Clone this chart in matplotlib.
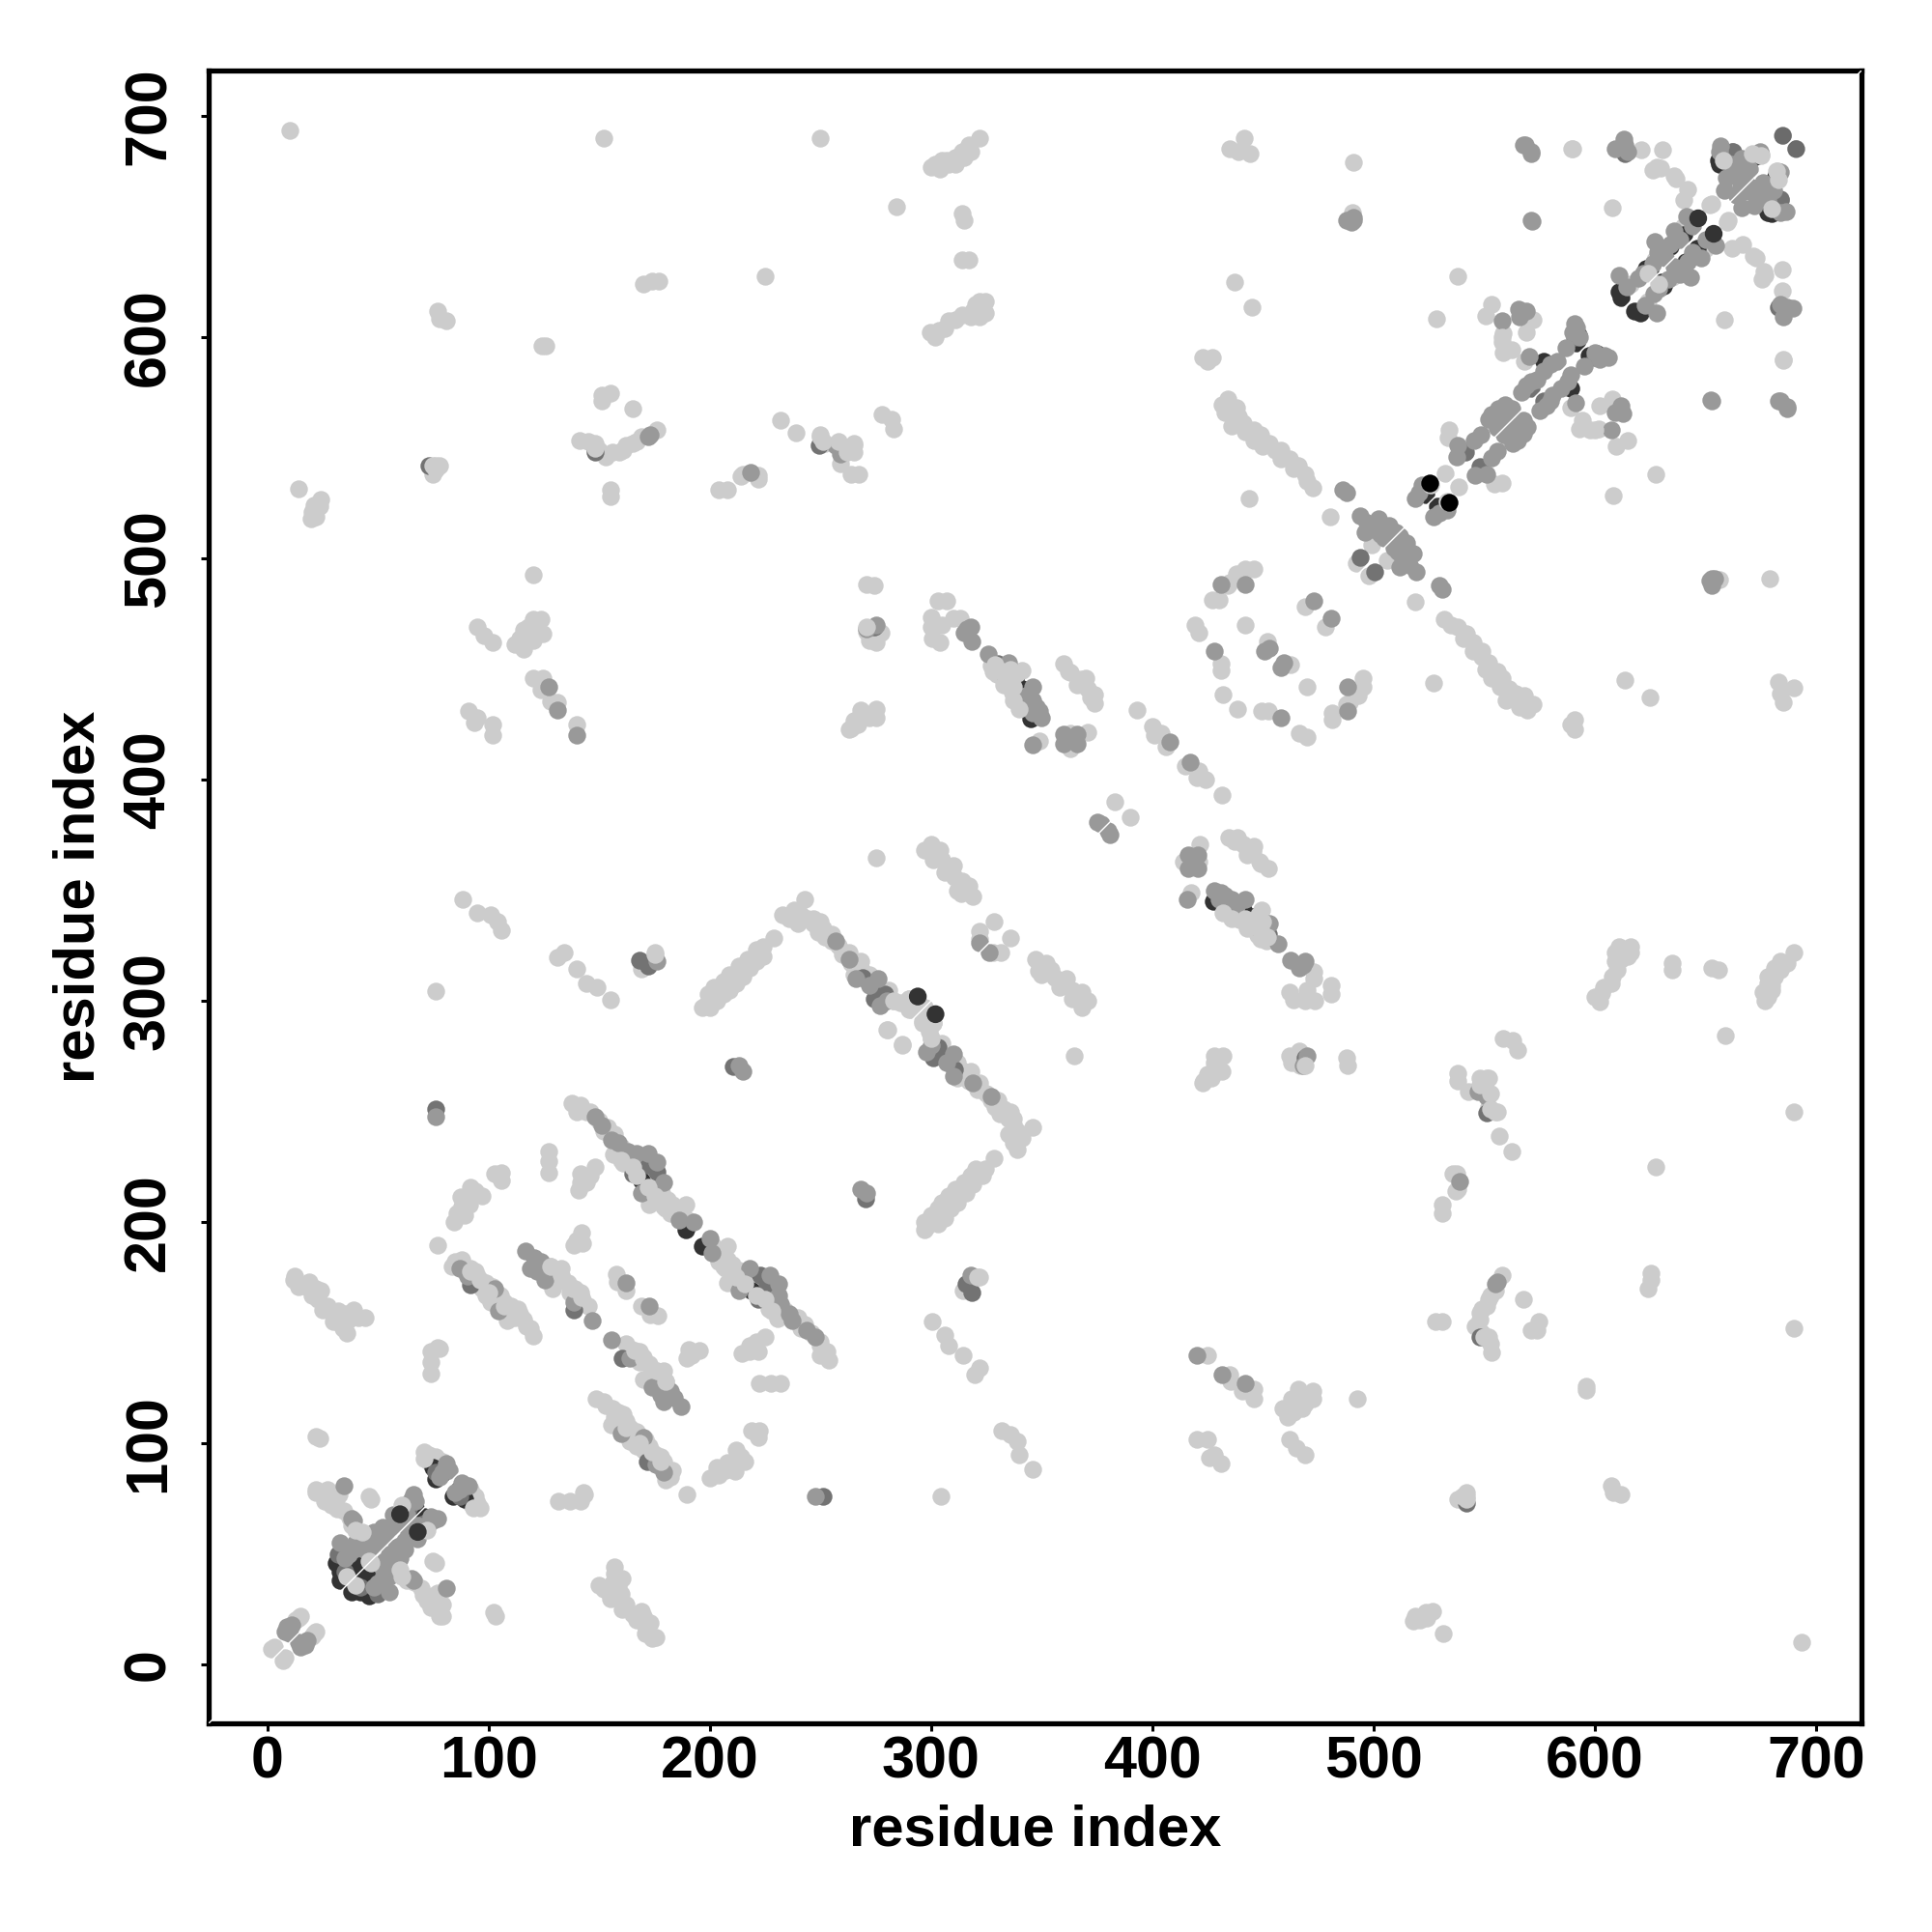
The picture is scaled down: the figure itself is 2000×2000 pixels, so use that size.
import matplotlib
matplotlib.use("Agg")
import matplotlib.pyplot as plt

# Contacts as (residue i, residue j) with i < j; the map is symmetric.
light = [
 (3,8),(2,7),(14,21),(13,20),(15,22),
 (22,79),(27,79),(24,78),(46,76),(22,103),(34.5,69.5),(31,75),(28.8,72.3),(32.6,77),(22,78),(26,74),
 (37.3,66.7),(31.6,70.5),(23.5,102.3),(47,75),(71,96),(73,95),(76,94),(73,92),(79,92),(42,50),(38,63),(45,52),
 (10,693.5),(152,690),(250,690),(225,627.5),(170,624),(174,625.5),(177,625.5),(77,612),(78,608.5),(81,607.5),
 (124,596),(126,596),(151,574),(155,574.5),(151,571),(165,567.6),(176,558),(169,555),(165,552),(161,549),(156,548),
 (159,548),(148,552),(145,553),(141,553.5),(155,531),(155,528),(204,531),(208,531),(214,537),(215,538),(222,537.6),(222,536),
 (150,549),(153,546),(162,551),(167,553),
 (232,562.5),(239,556.6),(250,556),(252,552),(265,551),(265,548),(259,543),(264,538),(267.5,538),
 (278,565),(282,563),(283,558.5),
 (76,542),(75,538),(78,542),(14,531.5),(24,526.5),(23.5,523.5),(20,521),(19.7,518),(21,524),(22,519),(120,492.5),
 (95,469),(98,465),(102,462),(120,472.5),(123.5,472.5),(118,469),(124.5,466),(116,467.7),(112,461),(116,459),(120,463),(122,468),(114,464),(118,463),(121,466),
 (120,446),(124.5,446),(123.5,440.6),(131,435),(128,435.6),(140,425),(91,431),(95,428),(102,425),(102,420),(93.5,426),
 (274.5,487.7),(272,463),(275.6,468),(265,426.5),(263,422.6),(269,430),(275,432),(275,428),(267,425),
 (88.5,346),(95,340),(101,339),(104,336),(106,332),(76,304.6),(131,319.6),(134,322),(140,314.6),(144,308),(149,306),(155,300.7),
 (175,322),(169,314.6),(275,364.7),
 (196.5,296.8),(198,298),(200,301),(203,303),(205,305),(208,308),(211.6,311),(214,313),(216,315),(220,319),(224,324.6),(229,328.5),
 (200,297),(203,300),(206,303),(209,305),(212,308),(215,311),(218,315),(221,318),(224,320),(199,303),(202,306),(206,309),(209,312),(213,316),(217,319),(221,323),
 (233,339),(238,341),(243,346),(241,339),(247,337),(247,335),(251,333),(252,329),(258,325),(263,322),(268,315),(272,312),(280,287),(287,280.6),
 (236,337),(240,335),(244,337),(249,331),(255,327),(260,321),(264,317),(268,318),(272,311),(255,330),(250,336),
 (283,300),(291,296),(281,305),(265,312),(290,301),
 (137.7,254),(141.5,253),(144.4,250),(154,243),(152,241),(156.6,230.5),(161,226.7),(174.6,215),(178.4,213),(172.7,208),(179,207),(182,204),(189,208),
 (140,250),(146,250),(150,246),(157,240),(160,234),(165,228),(170,225),(175,218),(181,210),(176,210),(185,205),(183,208),(188,202),(190,201),
 (127,232),(127,227.6),(127,222.5),(141.5,222),(140.5,214.4),(146,221),(148,224.8),(144,218),(141.5,218),
 (102.6,222),(106,222.5),(106,219),(91.6,216),(97,212),(87.5,211.5),(91.3,207.8),(85.6,204),(84.6,200),(89.4,203),(77,189.8),(88,207),(94,214),(87,204),
 (142,195.5),(138.6,189.8),(142.4,190.7),(140,192),
 (83.7,180),(92,179),(95,175.6),(99,172.7),(100.8,164),(105.5,167),(110,162),(108.3,155.7),(114,158.5),(117,153),(120,148.7),(103,166),(112,157),
 (85,182),(88,183),(90,177),(94,178),(97,170),(99,167),(102,171),(107,164),(110,158),(113,161),(116,156),(119,152),(105,163),
 (128,180),(133,179),(129,170),(135.8,172.7),(141.5,168),(145,162),(131,176),(137,168),(127,176),(130,172),(133,175),(139,170),(143,164),(140,166),
 (157.6,176.5),(162.3,169),(158,173),
 (12.2,175.6),(12,173.7),(17.4,170.8),(22,170),(23,165),(25,160.4),(29.7,159.5),(35.4,158.5),(39,160.4),(44.3,157),(32.6,154.7),(36,150),(30,155),
 (14,171),(19,173),(20,167),(24,169),(27,162),(32,160),(34,152),(37,156),(41,157),
 (77,143.4),(74,141.5),(74,136.7),(74,131.6),(78,143),
 (284.5,659),(302,678),(305,680),(308,678),(311,681),(314,684),(317,687),(322,690),(314,656),(315,653),(314,635),(317,635),
 (304,676),(307,680),(311,678),(315,681),(318,684),(300,677),
 (299.6,602),(303.4,603),(308,607.5),(311,608),(319,612),(324.6,616),(324.6,611),(322,616),(302,600),(306,604),(314,610),(318,609),(322,612),(320,615),(322,609),
 (434.9,685),(441.5,690),(444,683),(439,684),(437,625),(445,613.6),(490.4,656.5),(491,679),(422.6,591),(427,591),(425,589),
 (431.5,569.6),(436,567),(438.8,564),(436,560),(442,557),(446,553.4),(450,550.6),(455.5,549),(458,545),(464,540.6),(469,538),(472.7,531.7),
 (434,572),(438,568),(433,566),(441,561),(446,558),(449,556),(453,552),(458,549),(462,545),(466,542),(470,535),
 (443.8,527),(480.5,519),(271,488.4),(303,481),(307,481),(300,473.6),(300,469),(300.7,464),(304,462),(310,473),(313,473),(305,470),
 (271,467),(277.3,466.6),(275,462),(268,431.4),(272,428),(264,423),
 (327.3,451.7),(329.6,447.8),(341,449.4),(336.6,439.3),
 (360,452.5),(363,448.6),(367.8,445.5),(369.4,442.4),(374,438.5),(374,434.6),(371,441),(362,449),(366,443),(370,446),(372,437),
 (349,417.4),(363,421),(371,421.3),(363,414),
 (393,431.5),(400,424),(404,421),(401,420),(406,415),(383,390),
 (419.3,469.7),(421,466.6),(442,469.7),(431,452.5),(431,449.4),(431.8,438.5),(427,481.4),(434,487.6),(438,493),(442,495.4),(445.8,495.4),(430,481.4),(434.9,489),
 (452,462.6),(469,478),
 (297,368),(302,367),(305,363.6),(308,359.7),(310.7,355.8),(313.5,348.6),(319,347.4),(312,350),(322,328),(328.5,335.7),(321.8,331.6),
 (300,371),(304,368),(301,364),(306,358),(310,361),(314,354),(317,352),
 (532.2,538.5),(534,558.3),(533.7,554.6),(553.5,614.8),(550.6,609.7),(571.9,608),(558.6,601.6),(558.6,592.8),(562.3,594.3),(569,602.3),(558,598),
 (553.5,561.2),(589.5,685.3),(621,684.5),(630.6,684.5),(626.2,675.7),(635.7,672.8),(629.8,676.5),(640,661.8),(607.8,658.4),
 (538.1,627.3),(528.3,608.2),(568,589.1),(652.9,660.3),(499.2,506.2),(492,497.8),(636.8,671.7),(628,676.8),(642,667),(590,685),
 (658,682.3),(675.3,682.3),(640,650),(627,635),(523,531),(616,624),
]

mid = [
 (8,15),(9,17),(10,14),(11,18),(9,16),
 (33,55),(34.5,81),(38,66),(39,65),(44,59),(50,58),(57,68),(55,62),(59,64),(46,56),(48,60),(52,62),(54,60),(60,68),(62,70),(67,74),
 (35,48),(37,50),(39,52),(40,55),(42,57),(44,52),(47,53),(50,55),(53,58),(56,62),(60,65),(63,68),(65,75),(66,77),(64,73),
 (81,91),(79,87),(82,88),(78,85),
 (172,555),(218.5,539),(257,551),(259,547),(127,442),(131,431.5),(140,420),(176,318),
 (271,468),(213,271),(215,268),(266,310),(272,307),(276,310),(277,298),(257,327),(263,319),(280,300),
 (148,247.5),(151,243.7),(155.7,237),(158.5,236),(163,232),(167,231),(179,218),(169,213),(186,201),(192.6,200),(176,227),(172,231),
 (76,247.5),(87,179),(90.3,175.6),(102.6,170),(104.5,160),(116.9,187),(120.6,184),(123.5,182),(118.8,179),(125.4,173.7),(138.6,164),(147,155.7),(122,178),
 (162.3,172.7),(173,555.7),
 (488,653),(491,654),(486,531),(488,529.5),(318,469),(316.3,468),(314.8,466.6),(318.2,462.6),(275,469.7),
 (325.7,457),(335,453),(333.5,446),(346,442),(343,434.6),(347.5,433),(350,428),(346,430),(343,438),(349,431),(346,436),
 (346,415.9),(360,416),(360,420.5),(366,416),(366,420.5),(363,418),(408,417),(375,381),(380,377),
 (431,488.4),(442,488.4),(450.5,458),(453,459.5),(473,481),(427.9,458),
 (322,326.3),(520.5,529.7),(519,527),(522,533),(538,551),(537.4,545.8),(548.4,556),(545.4,553.2),
 (557.9,607.5),(565.3,612.6),(569,612),(566,609),(553.5,565),(556.5,567.8),(559.4,569.3),(562.3,567.8),(560,563),(552,563),(556,559),
 (569,578.1),(566.7,575.2),(571,580),(570.4,591.3),(582.9,589.1),(579.9,587.7),(577,584.7),(574,581),(591.7,604.5),(591,606),(590,602),(593,600),(587,595),
 (567.5,686.7),(571.1,683.8),(609.3,685.3),(613,689.7),(571,653),(610.8,628),(614.4,622.9),(619.6,626.6),(626.2,633.2),(627,643.4),(634.2,642),
 (641.6,654.5),(638.6,644.2),(628.4,638.3),(622,629),(632,636),(636,648),(644,650),
 (656.3,683.8),(666.5,680.9),(674.6,683.8),(659.2,672),(664.3,672.8),(668.7,678),(658.5,666.2),(670,676),(662,678),(656.7,686.3),(666,668),(664,664),(670,668),
 (613.4,687),(615,684),(571.5,652.6),(571,683),(568.6,687),(494,519.4),(497,516),(502,518),(507,515),(510,512),(503,511),(500,513),
 (496,512),(505,509),(653,491),(490,652),
]

dark = [
 (32,50),(35,42),(64,71),(76,251),(76,87),(73,542),(148,548),(249.5,551),(210.6,270.3),(168,318.5),(274.5,301),(279,303),(274.5,308),(269,310.7),
 (172,226),(176,223),(165,222),(92,171.8),(138.6,160.4),(316,172),(330.4,452.5),(469,274.5),(541.5,548),(555,565),(558,565),(571.1,576.7),
 (613.7,683),(662.1,683.8),(662.5,684),(494,500.3),(591,600),
]

deep = [
 (39,47),(41,46),(33,42),(35,44),(34,46),(31,46),(35,40),(38,42),(33,38),(66,73),(67,71),(64,72),(75,89),(79,86.5),(76,84),
 (169,219),(189,196.4),(338.2,445.5),(341,441),(345,427.5),(523.4,529),(577,589.1),(591.7,597.2),(592.4,600.9),
 (610.8,620.7),(612,618),(623.2,631),(640,646.4),(634,641),(657,683.8),(656,680),(672.4,681.6),(658,681),(656.5,678),(625,630),
]

light_over = [
 (75,542),(76,540),(148,550),(250,555),(251,553),(262,548),(258,553),(265,552),(271,469),(175,321),
 (329,452),(332,449),(336,450),(339,448),(334,445),(337,442),(340,432),(337,436),(333,443),(328,449),
 (160,228),(167,221),(172,216),(177,210),(175,212),(165,225),(180,206),
 (92,178),(96,174),(100,168),(107,162),(113,158),(128,180),(133,176),(138,170),(142,166),
 (286,299),(290,296),(283,300),(290,301),(297,297),
 (40,61),(43,60),(36,40),(71,93),(46,47),(61,72),
 (658,680),(675,682),(671,683),(652,660),(624,629),(558,600),(526,533),
]

top = [(294,302),(646.7,653.7),(685,691),(60,68)]
top_shade = ["#333333","#333333","#6b6b6b","#333333"]
black = [(525.2,534.1)]

ticks = [0, 100, 200, 300, 400, 500, 600, 700]
LIGHT, MID, DARK, DEEP = "#cccccc", "#999999", "#737373", "#333333"
SIZE = 44

plt.rcParams["font.family"] = ["Liberation Sans", "DejaVu Sans"]
plt.rcParams["font.weight"] = "bold"
fig = plt.figure(figsize=(10, 10), dpi=200)
ax = fig.add_axes([216/2000, 1-1784/2000, (1927-216)/2000, (1784-73)/2000])


def both(pairs):
    xs = [p[0] for p in pairs] + [p[1] for p in pairs]
    ys = [p[1] for p in pairs] + [p[0] for p in pairs]
    return xs, ys


for pairs, color in [(light, LIGHT), (deep, DEEP), (dark, DARK), (mid, MID), (light_over, LIGHT)]:
    xs, ys = both(pairs)
    ax.scatter(xs, ys, s=SIZE, c=color, linewidths=0, zorder=2)
xs, ys = both(top)
ax.scatter(xs, ys, s=SIZE, c=top_shade * 2, linewidths=0, zorder=3)
xs, ys = both(black)
ax.scatter(xs, ys, s=SIZE, c="black", linewidths=0, zorder=3)

ax.axline((0, 0), slope=1, color="white", lw=0.5, zorder=4)

ax.set_xlim(-26.5, 720.5)
ax.set_ylim(-26.5, 720.5)
ax.set_xticks(ticks)
ax.set_yticks(ticks)
ax.set_xticklabels([str(t) for t in ticks], fontsize=22, fontweight="bold")
ax.set_yticklabels([str(t) for t in ticks], fontsize=22, fontweight="bold", rotation=90, va="center")
ax.tick_params(axis="x", length=3, width=1.1, pad=1.5)
ax.tick_params(axis="y", length=3, width=1.1, pad=8.7)
for s in ax.spines.values():
    s.set_linewidth(1.9)
ax.set_xlabel("residue index", fontsize=21.5, fontweight="bold", labelpad=5)
ax.set_ylabel("residue index", fontsize=21.5, fontweight="bold", labelpad=6)
fig.savefig("out.png", dpi=200, facecolor="white")
